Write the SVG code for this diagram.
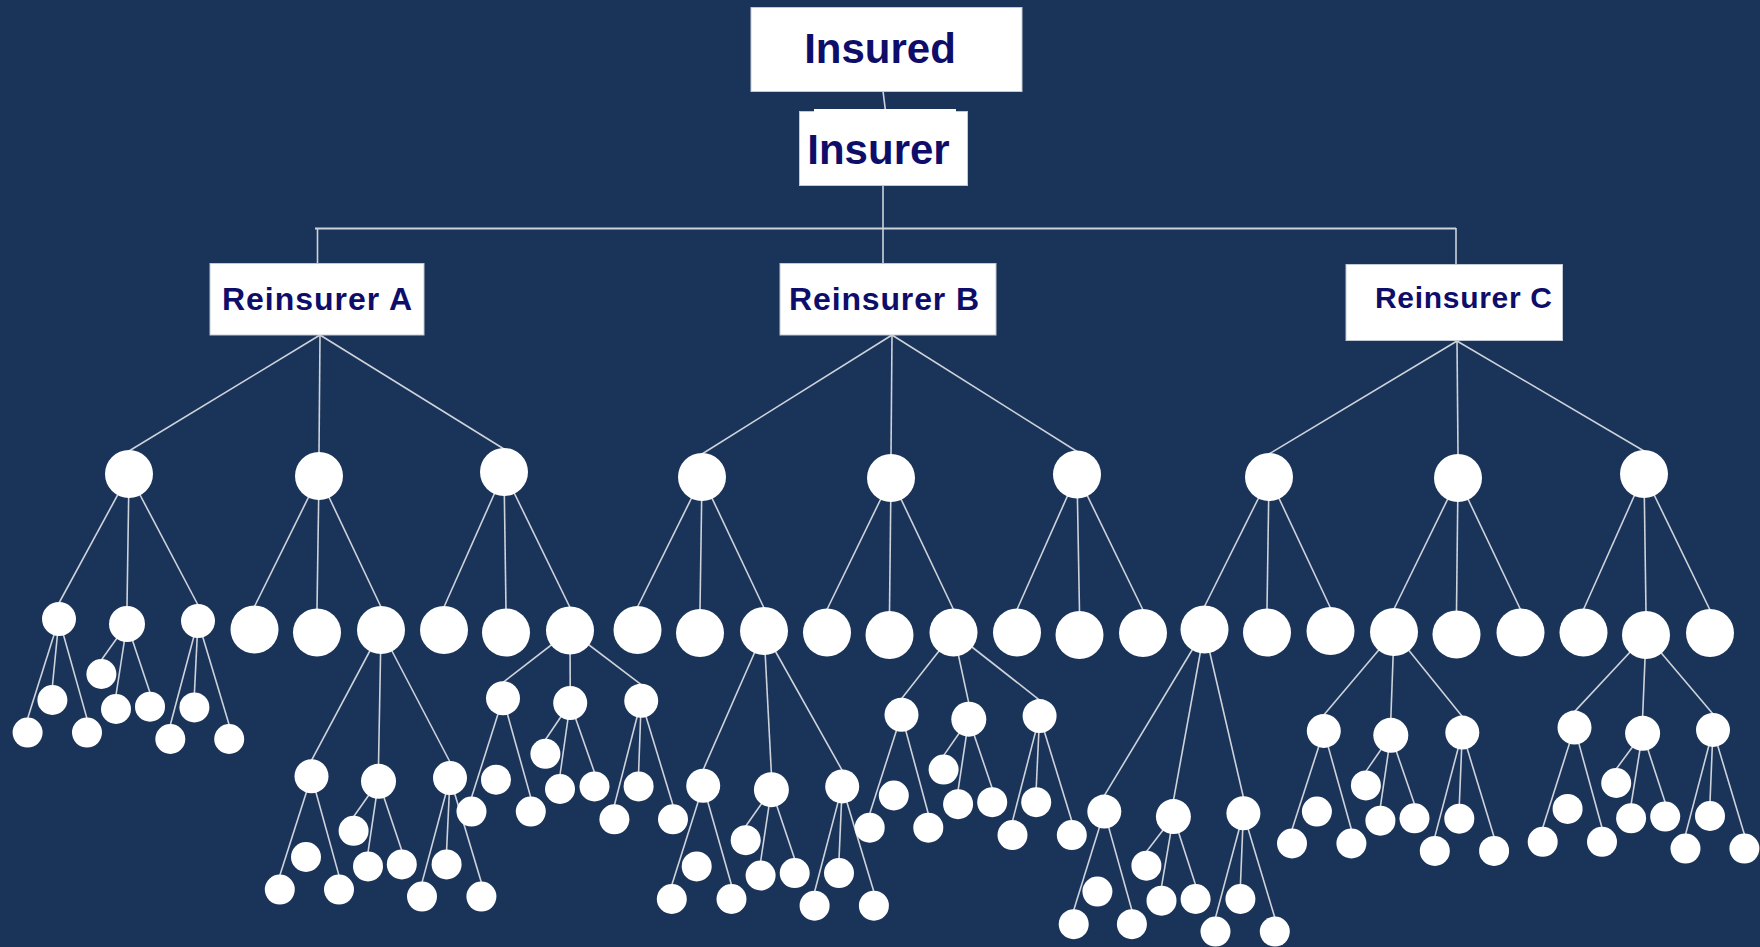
<svg xmlns="http://www.w3.org/2000/svg" width="1760" height="947" viewBox="0 0 1760 947">
<style>
.box{fill:#ffffff;stroke:#c3c9d4;stroke-width:1}
.lbl{font-family:"Liberation Sans",Arial,sans-serif;font-weight:bold;fill:#0e0e6a}
.ln{stroke:#cdd2db;stroke-width:1.6;fill:none}
.c{fill:#ffffff}
</style>
<rect width="1760" height="947" fill="#1a3358"/>
<g id="connectors" class="ln">
<line x1="883" y1="91" x2="885.5" y2="111"/>
<line x1="883" y1="186" x2="883" y2="228"/>
<line x1="315" y1="228.5" x2="1456" y2="228.5" stroke-width="2"/>
<line x1="317.5" y1="228" x2="317.5" y2="264"/>
<line x1="883" y1="228" x2="883" y2="264"/>
<line x1="1456" y1="228" x2="1456" y2="265"/>
<line x1="320" y1="335" x2="129" y2="451"/><line x1="320" y1="335" x2="319" y2="453"/><line x1="320" y1="335" x2="504" y2="449"/>
<line x1="892" y1="335" x2="702" y2="454"/><line x1="892" y1="335" x2="891" y2="455"/><line x1="892" y1="335" x2="1077" y2="451.5"/>
<line x1="1457" y1="341" x2="1269" y2="454"/><line x1="1457" y1="341" x2="1458" y2="455"/><line x1="1457" y1="341" x2="1644" y2="451"/>
<line x1="129" y1="474" x2="59" y2="603"/><line x1="129" y1="474" x2="127" y2="607"/><line x1="129" y1="474" x2="198" y2="605"/>
<line x1="319" y1="476" x2="254.5" y2="606.5"/><line x1="319" y1="476" x2="317" y2="609.5"/><line x1="319" y1="476" x2="381" y2="607"/>
<line x1="504" y1="472" x2="444" y2="607"/><line x1="504" y1="472" x2="506" y2="609.5"/><line x1="504" y1="472" x2="570" y2="607.5"/>
<line x1="702" y1="477" x2="637.5" y2="607"/><line x1="702" y1="477" x2="700" y2="610"/><line x1="702" y1="477" x2="764" y2="608"/>
<line x1="891" y1="478" x2="827" y2="609.5"/><line x1="891" y1="478" x2="889.5" y2="612"/><line x1="891" y1="478" x2="953.5" y2="609.5"/>
<line x1="1077" y1="474.5" x2="1017" y2="609.5"/><line x1="1077" y1="474.5" x2="1079.5" y2="612"/><line x1="1077" y1="474.5" x2="1143" y2="610"/>
<line x1="1269" y1="477" x2="1204.5" y2="606.5"/><line x1="1269" y1="477" x2="1267" y2="609.5"/><line x1="1269" y1="477" x2="1330.5" y2="608"/>
<line x1="1458" y1="478" x2="1394" y2="609"/><line x1="1458" y1="478" x2="1456.5" y2="611.5"/><line x1="1458" y1="478" x2="1520.5" y2="609.5"/>
<line x1="1644" y1="474" x2="1583.5" y2="609.5"/><line x1="1644" y1="474" x2="1646" y2="612"/><line x1="1644" y1="474" x2="1710" y2="610"/>
<line x1="59" y1="619" x2="27.6" y2="718.6"/><line x1="59" y1="619" x2="52.4" y2="686"/><line x1="59" y1="619" x2="87" y2="718.6"/>
<line x1="127" y1="624" x2="101.4" y2="660"/><line x1="127" y1="624" x2="116" y2="695"/><line x1="127" y1="624" x2="150" y2="692.7"/>
<line x1="198" y1="621" x2="170.3" y2="725"/><line x1="198" y1="621" x2="194.4" y2="693.4"/><line x1="198" y1="621" x2="229.2" y2="725"/>
<line x1="381" y1="630" x2="311.5" y2="760.3"/><line x1="381" y1="630" x2="378.5" y2="765.3"/><line x1="381" y1="630" x2="450" y2="762"/>
<line x1="570" y1="630.5" x2="503" y2="682.3"/><line x1="570" y1="630.5" x2="570.2" y2="687"/><line x1="570" y1="630.5" x2="641.2" y2="684.7"/>
<line x1="764" y1="631" x2="703.2" y2="769.7"/><line x1="764" y1="631" x2="771.4" y2="773.7"/><line x1="764" y1="631" x2="842.2" y2="770.4"/>
<line x1="953.5" y1="632.5" x2="901.5" y2="698.8"/><line x1="953.5" y1="632.5" x2="968.8" y2="703.2"/><line x1="953.5" y1="632.5" x2="1039.6" y2="700.1"/>
<line x1="1204.5" y1="629.5" x2="1104.3" y2="795.6"/><line x1="1204.5" y1="629.5" x2="1173.4" y2="800.6"/><line x1="1204.5" y1="629.5" x2="1243.4" y2="797.3"/>
<line x1="1394" y1="632" x2="1323.8" y2="714.9"/><line x1="1394" y1="632" x2="1390.8" y2="719.3"/><line x1="1394" y1="632" x2="1462.3" y2="716.6"/>
<line x1="1646" y1="635" x2="1574.5" y2="711.6"/><line x1="1646" y1="635" x2="1642.6" y2="717.3"/><line x1="1646" y1="635" x2="1713" y2="713.9"/>
<line x1="311.5" y1="776.3" x2="279.8" y2="875.6"/><line x1="311.5" y1="776.3" x2="339" y2="875.6"/>
<line x1="378.5" y1="781.3" x2="353.6" y2="816.8"/><line x1="378.5" y1="781.3" x2="368" y2="852.4"/><line x1="378.5" y1="781.3" x2="401.8" y2="850.4"/>
<line x1="450" y1="778" x2="422" y2="882.6"/><line x1="450" y1="778" x2="446.6" y2="850.4"/><line x1="450" y1="778" x2="481.4" y2="882.6"/>
<line x1="503" y1="698.3" x2="471.5" y2="797.6"/><line x1="503" y1="698.3" x2="530.8" y2="797.6"/>
<line x1="570.2" y1="703" x2="545.4" y2="739.8"/><line x1="570.2" y1="703" x2="560" y2="775"/><line x1="570.2" y1="703" x2="594.5" y2="772.4"/>
<line x1="641.2" y1="700.7" x2="614.4" y2="805.3"/><line x1="641.2" y1="700.7" x2="638.6" y2="772.4"/><line x1="641.2" y1="700.7" x2="673" y2="805.3"/>
<line x1="703.2" y1="785.7" x2="671.8" y2="885"/><line x1="703.2" y1="785.7" x2="731.5" y2="885"/>
<line x1="771.4" y1="789.7" x2="745.7" y2="826.2"/><line x1="771.4" y1="789.7" x2="760.6" y2="861.5"/><line x1="771.4" y1="789.7" x2="794.7" y2="859.1"/>
<line x1="842.2" y1="786.4" x2="814.6" y2="891.7"/><line x1="842.2" y1="786.4" x2="839" y2="859.1"/><line x1="842.2" y1="786.4" x2="873.9" y2="891.7"/>
<line x1="901.5" y1="714.8" x2="869.7" y2="813.7"/><line x1="901.5" y1="714.8" x2="928.3" y2="813.7"/>
<line x1="968.8" y1="719.2" x2="943.6" y2="755.6"/><line x1="968.8" y1="719.2" x2="958.1" y2="790.2"/><line x1="968.8" y1="719.2" x2="992.2" y2="788.2"/>
<line x1="1039.6" y1="716.1" x2="1012.5" y2="821.1"/><line x1="1039.6" y1="716.1" x2="1036.2" y2="788.2"/><line x1="1039.6" y1="716.1" x2="1071.8" y2="821.1"/>
<line x1="1104.3" y1="811.6" x2="1073.7" y2="910.2"/><line x1="1104.3" y1="811.6" x2="1131.9" y2="910.2"/>
<line x1="1173.4" y1="816.6" x2="1146.4" y2="851.7"/><line x1="1173.4" y1="816.6" x2="1161.5" y2="886.7"/><line x1="1173.4" y1="816.6" x2="1195.6" y2="885"/>
<line x1="1243.4" y1="813.3" x2="1215.5" y2="917.6"/><line x1="1243.4" y1="813.3" x2="1240.4" y2="885"/><line x1="1243.4" y1="813.3" x2="1274.8" y2="917.6"/>
<line x1="1323.8" y1="730.9" x2="1292" y2="829.5"/><line x1="1323.8" y1="730.9" x2="1351.4" y2="829.5"/>
<line x1="1390.8" y1="735.3" x2="1365.9" y2="771.4"/><line x1="1390.8" y1="735.3" x2="1380.4" y2="806.7"/><line x1="1390.8" y1="735.3" x2="1414.5" y2="804.3"/>
<line x1="1462.3" y1="732.6" x2="1434.8" y2="836.9"/><line x1="1462.3" y1="732.6" x2="1459.3" y2="804.7"/><line x1="1462.3" y1="732.6" x2="1494.1" y2="836.9"/>
<line x1="1574.5" y1="727.6" x2="1542.7" y2="827.8"/><line x1="1574.5" y1="727.6" x2="1602" y2="827.8"/>
<line x1="1642.6" y1="733.3" x2="1616.2" y2="769"/><line x1="1642.6" y1="733.3" x2="1631.1" y2="804.3"/><line x1="1642.6" y1="733.3" x2="1665.2" y2="802.6"/>
<line x1="1713" y1="729.9" x2="1685.5" y2="834.6"/><line x1="1713" y1="729.9" x2="1710" y2="802"/><line x1="1713" y1="729.9" x2="1744.4" y2="834.6"/>
</g>
<g id="insured"><rect class="box" x="751" y="7.5" width="271" height="84"/><text class="lbl" x="880" y="63" font-size="42" text-anchor="middle">Insured</text></g>
<g id="insurer"><rect class="box" x="799.5" y="111.5" width="168" height="74"/><rect x="814" y="109" width="142" height="4" fill="#ffffff"/><text class="lbl" x="878.5" y="163.5" font-size="42" text-anchor="middle">Insurer</text></g>
<g id="reinsurer-a"><rect class="box" x="210" y="263.5" width="214" height="71.5"/><text class="lbl" x="222" y="309.5" font-size="32" textLength="190" lengthAdjust="spacing">Reinsurer A</text></g>
<g id="reinsurer-b"><rect class="box" x="780" y="263.5" width="216" height="71.5"/><text class="lbl" x="789" y="309.5" font-size="32" textLength="190" lengthAdjust="spacing">Reinsurer B</text></g>
<g id="reinsurer-c"><rect class="box" x="1346" y="264.5" width="216.5" height="76"/><text class="lbl" x="1375" y="307.5" font-size="30" textLength="177" lengthAdjust="spacing">Reinsurer C</text></g>
<g id="A1"><circle class="c" cx="129" cy="474" r="24"/></g>
<g id="A2"><circle class="c" cx="319" cy="476" r="24"/></g>
<g id="A3"><circle class="c" cx="504" cy="472" r="24"/></g>
<g id="B1"><circle class="c" cx="702" cy="477" r="24"/></g>
<g id="B2"><circle class="c" cx="891" cy="478" r="24"/></g>
<g id="B3"><circle class="c" cx="1077" cy="474.5" r="24"/></g>
<g id="C1"><circle class="c" cx="1269" cy="477" r="24"/></g>
<g id="C2"><circle class="c" cx="1458" cy="478" r="24"/></g>
<g id="C3"><circle class="c" cx="1644" cy="474" r="24"/></g>
<g id="A1a"><circle class="c" cx="59" cy="619" r="17"/></g>
<g id="A1b"><circle class="c" cx="127" cy="624" r="18"/></g>
<g id="A1c"><circle class="c" cx="198" cy="621" r="17"/></g>
<g id="A2a"><circle class="c" cx="254.5" cy="629.5" r="24"/></g>
<g id="A2b"><circle class="c" cx="317" cy="632.5" r="24"/></g>
<g id="A2c"><circle class="c" cx="381" cy="630" r="24"/></g>
<g id="A3a"><circle class="c" cx="444" cy="630" r="24"/></g>
<g id="A3b"><circle class="c" cx="506" cy="632.5" r="24"/></g>
<g id="A3c"><circle class="c" cx="570" cy="630.5" r="24"/></g>
<g id="B1a"><circle class="c" cx="637.5" cy="630" r="24"/></g>
<g id="B1b"><circle class="c" cx="700" cy="633" r="24"/></g>
<g id="B1c"><circle class="c" cx="764" cy="631" r="24"/></g>
<g id="B2a"><circle class="c" cx="827" cy="632.5" r="24"/></g>
<g id="B2b"><circle class="c" cx="889.5" cy="635" r="24"/></g>
<g id="B2c"><circle class="c" cx="953.5" cy="632.5" r="24"/></g>
<g id="B3a"><circle class="c" cx="1017" cy="632.5" r="24"/></g>
<g id="B3b"><circle class="c" cx="1079.5" cy="635" r="24"/></g>
<g id="B3c"><circle class="c" cx="1143" cy="633" r="24"/></g>
<g id="C1a"><circle class="c" cx="1204.5" cy="629.5" r="24"/></g>
<g id="C1b"><circle class="c" cx="1267" cy="632.5" r="24"/></g>
<g id="C1c"><circle class="c" cx="1330.5" cy="631" r="24"/></g>
<g id="C2a"><circle class="c" cx="1394" cy="632" r="24"/></g>
<g id="C2b"><circle class="c" cx="1456.5" cy="634.5" r="24"/></g>
<g id="C2c"><circle class="c" cx="1520.5" cy="632.5" r="24"/></g>
<g id="C3a"><circle class="c" cx="1583.5" cy="632.5" r="24"/></g>
<g id="C3b"><circle class="c" cx="1646" cy="635" r="24"/></g>
<g id="C3c"><circle class="c" cx="1710" cy="633" r="24"/></g>
<g id="A1a1"><circle class="c" cx="27.6" cy="732.6" r="15"/></g>
<g id="A1a2"><circle class="c" cx="52.4" cy="700" r="15"/></g>
<g id="A1a3"><circle class="c" cx="87" cy="732.6" r="15"/></g>
<g id="A1b1"><circle class="c" cx="101.4" cy="674" r="15"/></g>
<g id="A1b2"><circle class="c" cx="116" cy="709" r="15"/></g>
<g id="A1b3"><circle class="c" cx="150" cy="706.7" r="15"/></g>
<g id="A1c1"><circle class="c" cx="170.3" cy="739" r="15"/></g>
<g id="A1c2"><circle class="c" cx="194.4" cy="707.4" r="15"/></g>
<g id="A1c3"><circle class="c" cx="229.2" cy="739" r="15"/></g>
<g id="A2c1"><circle class="c" cx="311.5" cy="776.3" r="17"/></g>
<g id="A2c2"><circle class="c" cx="378.5" cy="781.3" r="17.5"/></g>
<g id="A2c3"><circle class="c" cx="450" cy="778" r="17"/></g>
<g id="A3c1"><circle class="c" cx="503" cy="698.3" r="17"/></g>
<g id="A3c2"><circle class="c" cx="570.2" cy="703" r="17"/></g>
<g id="A3c3"><circle class="c" cx="641.2" cy="700.7" r="17"/></g>
<g id="B1c1"><circle class="c" cx="703.2" cy="785.7" r="17"/></g>
<g id="B1c2"><circle class="c" cx="771.4" cy="789.7" r="17.5"/></g>
<g id="B1c3"><circle class="c" cx="842.2" cy="786.4" r="17"/></g>
<g id="B2c1"><circle class="c" cx="901.5" cy="714.8" r="17"/></g>
<g id="B2c2"><circle class="c" cx="968.8" cy="719.2" r="17.5"/></g>
<g id="B2c3"><circle class="c" cx="1039.6" cy="716.1" r="17"/></g>
<g id="C1a1"><circle class="c" cx="1104.3" cy="811.6" r="17"/></g>
<g id="C1a2"><circle class="c" cx="1173.4" cy="816.6" r="17.5"/></g>
<g id="C1a3"><circle class="c" cx="1243.4" cy="813.3" r="17"/></g>
<g id="C2a1"><circle class="c" cx="1323.8" cy="730.9" r="17"/></g>
<g id="C2a2"><circle class="c" cx="1390.8" cy="735.3" r="17.5"/></g>
<g id="C2a3"><circle class="c" cx="1462.3" cy="732.6" r="17"/></g>
<g id="C3b1"><circle class="c" cx="1574.5" cy="727.6" r="17"/></g>
<g id="C3b2"><circle class="c" cx="1642.6" cy="733.3" r="17.5"/></g>
<g id="C3b3"><circle class="c" cx="1713" cy="729.9" r="17"/></g>
<g id="A2c1a"><circle class="c" cx="279.8" cy="889.6" r="15"/></g>
<g id="A2c1b"><circle class="c" cx="306" cy="857" r="15"/></g>
<g id="A2c1c"><circle class="c" cx="339" cy="889.6" r="15"/></g>
<g id="A2c2a"><circle class="c" cx="353.6" cy="830.8" r="15"/></g>
<g id="A2c2b"><circle class="c" cx="368" cy="866.4" r="15"/></g>
<g id="A2c2c"><circle class="c" cx="401.8" cy="864.4" r="15"/></g>
<g id="A2c3a"><circle class="c" cx="422" cy="896.6" r="15"/></g>
<g id="A2c3b"><circle class="c" cx="446.6" cy="864.4" r="15"/></g>
<g id="A2c3c"><circle class="c" cx="481.4" cy="896.6" r="15"/></g>
<g id="A3c1a"><circle class="c" cx="471.5" cy="811.6" r="15"/></g>
<g id="A3c1b"><circle class="c" cx="496" cy="779.7" r="15"/></g>
<g id="A3c1c"><circle class="c" cx="530.8" cy="811.6" r="15"/></g>
<g id="A3c2a"><circle class="c" cx="545.4" cy="753.8" r="15"/></g>
<g id="A3c2b"><circle class="c" cx="560" cy="789" r="15"/></g>
<g id="A3c2c"><circle class="c" cx="594.5" cy="786.4" r="15"/></g>
<g id="A3c3a"><circle class="c" cx="614.4" cy="819.3" r="15"/></g>
<g id="A3c3b"><circle class="c" cx="638.6" cy="786.4" r="15"/></g>
<g id="A3c3c"><circle class="c" cx="673" cy="819.3" r="15"/></g>
<g id="B1c1a"><circle class="c" cx="671.8" cy="899" r="15"/></g>
<g id="B1c1b"><circle class="c" cx="696.7" cy="866.4" r="15"/></g>
<g id="B1c1c"><circle class="c" cx="731.5" cy="899" r="15"/></g>
<g id="B1c2a"><circle class="c" cx="745.7" cy="840.2" r="15"/></g>
<g id="B1c2b"><circle class="c" cx="760.6" cy="875.5" r="15"/></g>
<g id="B1c2c"><circle class="c" cx="794.7" cy="873.1" r="15"/></g>
<g id="B1c3a"><circle class="c" cx="814.6" cy="905.7" r="15"/></g>
<g id="B1c3b"><circle class="c" cx="839" cy="873.1" r="15"/></g>
<g id="B1c3c"><circle class="c" cx="873.9" cy="905.7" r="15"/></g>
<g id="B2c1a"><circle class="c" cx="869.7" cy="827.7" r="15"/></g>
<g id="B2c1b"><circle class="c" cx="893.8" cy="795.5" r="15"/></g>
<g id="B2c1c"><circle class="c" cx="928.3" cy="827.7" r="15"/></g>
<g id="B2c2a"><circle class="c" cx="943.6" cy="769.6" r="15"/></g>
<g id="B2c2b"><circle class="c" cx="958.1" cy="804.2" r="15"/></g>
<g id="B2c2c"><circle class="c" cx="992.2" cy="802.2" r="15"/></g>
<g id="B2c3a"><circle class="c" cx="1012.5" cy="835.1" r="15"/></g>
<g id="B2c3b"><circle class="c" cx="1036.2" cy="802.2" r="15"/></g>
<g id="B2c3c"><circle class="c" cx="1071.8" cy="835.1" r="15"/></g>
<g id="C1a1a"><circle class="c" cx="1073.7" cy="924.2" r="15"/></g>
<g id="C1a1b"><circle class="c" cx="1097.4" cy="891.6" r="15"/></g>
<g id="C1a1c"><circle class="c" cx="1131.9" cy="924.2" r="15"/></g>
<g id="C1a2a"><circle class="c" cx="1146.4" cy="865.7" r="15"/></g>
<g id="C1a2b"><circle class="c" cx="1161.5" cy="900.7" r="15"/></g>
<g id="C1a2c"><circle class="c" cx="1195.6" cy="899" r="15"/></g>
<g id="C1a3a"><circle class="c" cx="1215.5" cy="931.6" r="15"/></g>
<g id="C1a3b"><circle class="c" cx="1240.4" cy="899" r="15"/></g>
<g id="C1a3c"><circle class="c" cx="1274.8" cy="931.6" r="15"/></g>
<g id="C2a1a"><circle class="c" cx="1292" cy="843.5" r="15"/></g>
<g id="C2a1b"><circle class="c" cx="1316.9" cy="811.6" r="15"/></g>
<g id="C2a1c"><circle class="c" cx="1351.4" cy="843.5" r="15"/></g>
<g id="C2a2a"><circle class="c" cx="1365.9" cy="785.4" r="15"/></g>
<g id="C2a2b"><circle class="c" cx="1380.4" cy="820.7" r="15"/></g>
<g id="C2a2c"><circle class="c" cx="1414.5" cy="818.3" r="15"/></g>
<g id="C2a3a"><circle class="c" cx="1434.8" cy="850.9" r="15"/></g>
<g id="C2a3b"><circle class="c" cx="1459.3" cy="818.7" r="15"/></g>
<g id="C2a3c"><circle class="c" cx="1494.1" cy="850.9" r="15"/></g>
<g id="C3b1a"><circle class="c" cx="1542.7" cy="841.8" r="15"/></g>
<g id="C3b1b"><circle class="c" cx="1567.6" cy="808.9" r="15"/></g>
<g id="C3b1c"><circle class="c" cx="1602" cy="841.8" r="15"/></g>
<g id="C3b2a"><circle class="c" cx="1616.2" cy="783" r="15"/></g>
<g id="C3b2b"><circle class="c" cx="1631.1" cy="818.3" r="15"/></g>
<g id="C3b2c"><circle class="c" cx="1665.2" cy="816.6" r="15"/></g>
<g id="C3b3a"><circle class="c" cx="1685.5" cy="848.6" r="15"/></g>
<g id="C3b3b"><circle class="c" cx="1710" cy="816" r="15"/></g>
<g id="C3b3c"><circle class="c" cx="1744.4" cy="848.6" r="15"/></g>
</svg>
